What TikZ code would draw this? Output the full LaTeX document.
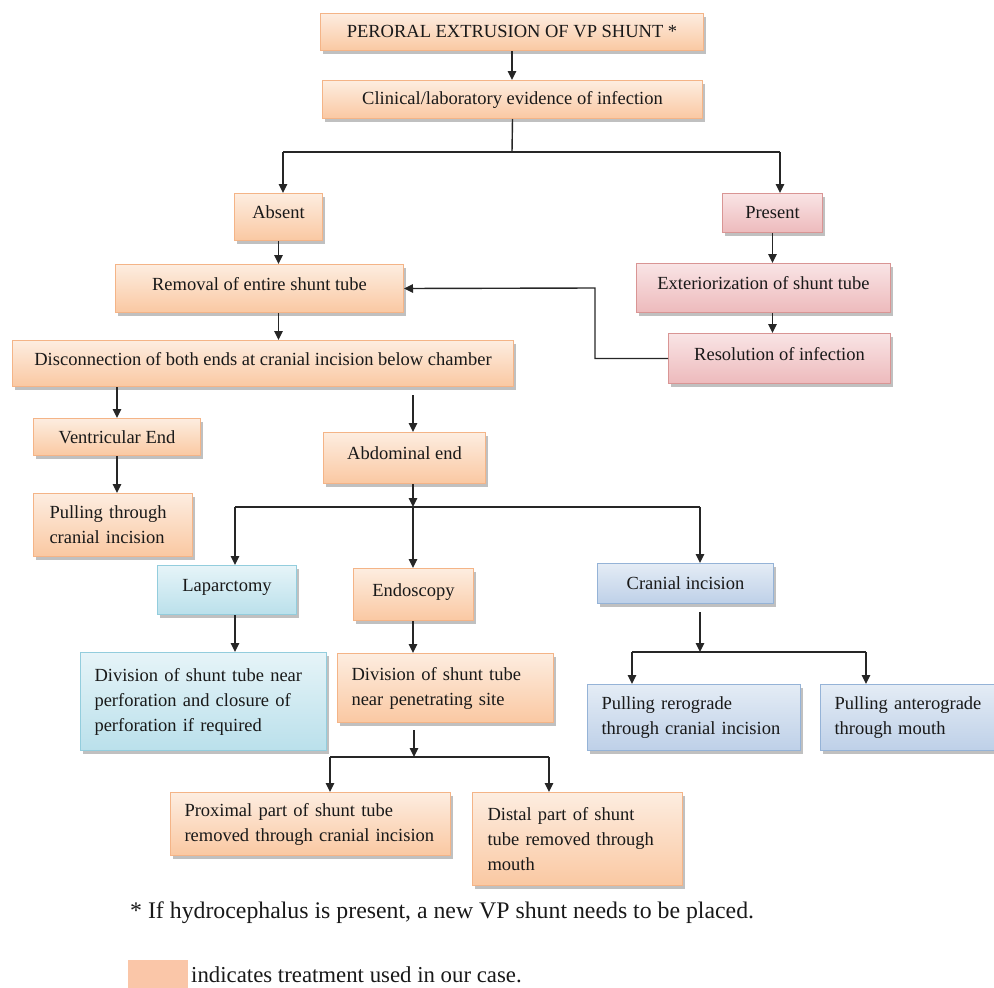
\documentclass[tikz,border=0pt]{standalone}
\usepackage{fontspec}
\setmainfont{Liberation Serif}
\usetikzlibrary{arrows.meta,shadows}
\definecolor{txt}{RGB}{25,25,25}
\definecolor{orTop}{RGB}{253,237,224}
\definecolor{orBot}{RGB}{250,200,162}
\definecolor{orBd}{RGB}{244,180,135}
\definecolor{pkTop}{RGB}{249,228,229}
\definecolor{pkBot}{RGB}{237,186,188}
\definecolor{pkBd}{RGB}{217,149,148}
\definecolor{cyTop}{RGB}{230,244,248}
\definecolor{cyBot}{RGB}{186,224,235}
\definecolor{cyBd}{RGB}{147,205,221}
\definecolor{blTop}{RGB}{228,236,245}
\definecolor{blBot}{RGB}{190,208,232}
\definecolor{blBd}{RGB}{149,179,215}
\definecolor{swatch}{RGB}{250,198,168}
\newcommand\bxfont{\fontsize{18.5}{25}\selectfont}
\begin{document}
\begin{tikzpicture}[x=1pt,y=-1pt,
  box/.style={rectangle, line width=1pt, font=\bxfont, text=txt, inner sep=0pt,
    anchor=north west, drop shadow={shadow xshift=2.5pt, shadow yshift=-3pt, fill=black!55, opacity=0.45}},
  obox/.style={box, draw=orBd, top color=orTop, bottom color=orBot},
  pbox/.style={box, draw=pkBd, top color=pkTop, bottom color=pkBot},
  cbox/.style={box, draw=cyBd, top color=cyTop, bottom color=cyBot},
  bbox/.style={box, draw=blBd, top color=blTop, bottom color=blBot},
  sz/.style 2 args={minimum width=#1, minimum height=#2, align=center},
  hi/.style={text height=13pt, text depth=10pt},
  ml/.style n args={3}{text width=#1, inner xsep=#2, minimum height=#3, align=left},
  arr/.style={line width=1.4pt, draw=black!85, -{Triangle[length=9pt,width=8.5pt]}},
  ln/.style={line width=1.4pt, draw=black!85}]
\useasboundingbox (0,0) rectangle (994,988);

% boxes
\node[obox, sz={383}{37}] (peroral) at (320,13) {PERORAL EXTRUSION OF VP SHUNT *};
\node[obox, sz={380}{38}] (clin) at (322,80) {Clinical/laboratory evidence of infection};
\node[obox, sz={88}{47}, hi] (absent) at (234,193) {Absent};
\node[pbox, sz={100}{39}] (present) at (722,193) {Present};
\node[obox, sz={288}{48}, hi] (removal) at (115,264) {Removal of entire shunt tube};
\node[pbox, sz={254}{49}, hi] (exter) at (636,263) {Exteriorization of shunt tube};
\node[pbox, sz={222}{50}, hi] (resol) at (668,333) {Resolution of infection};
\node[obox, sz={501}{46}, hi] (disc) at (12,340) {Disconnection of both ends at cranial incision below chamber};
\node[obox, sz={167}{37}] (vent) at (33,418) {Ventricular End};
\node[obox, ml={127pt}{16pt}{63}] (pullthru) at (33,493) {Pulling through\\cranial incision};
\node[obox, sz={162}{51}, hi] (abd) at (323,432) {Abdominal end};
\node[cbox, sz={139}{49}, hi] (lap) at (157,565) {Laparctomy};
\node[obox, sz={120}{52}, hi] (endo) at (353,568) {Endoscopy};
\node[bbox, sz={176}{40}] (cran) at (597,563) {Cranial incision};
\node[cbox, ml={218pt}{14pt}{98}] (divlap) at (80,652) {Division of shunt tube near\\perforation and closure of\\perforation if required};
\node[obox, ml={188pt}{14pt}{69}] (divendo) at (337,653) {Division of shunt tube\\near penetrating site};
\node[bbox, ml={185pt}{14pt}{66}] (retro) at (587,684) {Pulling rerograde\\through cranial incision};
\node[bbox, ml={148pt}{14pt}{66}] (antero) at (820,684) {Pulling anterograde\\through mouth};
\node[obox, ml={252pt}{14pt}{63}] (prox) at (170,792) {Proximal part of shunt tube\\removed through cranial incision};
\node[obox, ml={180pt}{15pt}{93}] (distal) at (472,792) {Distal part of shunt\\tube removed through\\mouth};

% junction coordinates
\coordinate (j1) at (512,152);
\coordinate (jL) at (283,152);
\coordinate (jR) at (780,152);
\coordinate (fb) at (595,288);
\coordinate (dA) at (413,395);
\coordinate (jA) at (413,507);
\coordinate (jAL) at (235,507);
\coordinate (jAR) at (700,507);
\coordinate (cS) at (700,612);
\coordinate (jC) at (700,652);
\coordinate (jCL) at (632,652);
\coordinate (jCR) at (866,652);
\coordinate (eS) at (414,730);
\coordinate (jE) at (414,757);
\coordinate (jEL) at (330,757);
\coordinate (jER) at (549,757);

% connectors
\draw[arr] (peroral.south) -- (clin.north -| peroral.south);
\draw[ln] (clin.south) -- (j1);
\draw[ln] (jL) -- (jR);
\draw[arr] (jL) -- (absent.north -| jL);
\draw[arr] (jR) -- (present.north -| jR);
\draw[arr] (absent.south) -- (removal.north -| absent.south);
\draw[arr] (present.south) -- (exter.north -| present.south);
\draw[arr] (exter.south -| present.south) -- (resol.north -| present.south);
\draw[arr] (resol.west) -| (fb) -- (removal.east);
\draw[arr] (removal.south -| absent.south) -- (disc.north -| absent.south);
\draw[arr] (disc.south -| vent.south) -- (vent.north);
\draw[arr] (vent.south) -- (pullthru.north -| vent.south);
\draw[arr] (dA) -- (abd.north -| dA);
\draw[arr] (abd.south -| jA) -- (jA);
\draw[ln] (jAL) -- (jAR);
\draw[arr] (jAL) -- (lap.north -| jAL);
\draw[arr] (jA) -- (endo.north -| jA);
\draw[arr] (jAR) -- (cran.north -| jAR);
\draw[arr] (lap.south -| jAL) -- (divlap.north -| jAL);
\draw[arr] (endo.south -| jA) -- (divendo.north -| jA);
\draw[arr] (cS) -- (jC);
\draw[ln] (jCL) -- (jCR);
\draw[arr] (jCL) -- (retro.north -| jCL);
\draw[arr] (jCR) -- (antero.north -| jCR);
\draw[arr] (eS) -- (jE);
\draw[ln] (jEL) -- (jER);
\draw[arr] (jEL) -- (prox.north -| jEL);
\draw[arr] (jER) -- (distal.north -| jER);

% footnote and legend
\node[anchor=base west, inner sep=0pt, text=txt, font=\fontsize{23.8}{28}\selectfont] (foot) at (130,918) {* If hydrocephalus is present, a new VP shunt needs to be placed.};
\node[anchor=north west, fill=swatch, minimum width=60, minimum height=28, inner sep=0pt] (sw) at (128,960) {};
\node[anchor=base west, inner sep=0pt, text=txt, font=\fontsize{22.8}{27}\selectfont] (leg) at (191,982) {indicates treatment used in our case.};
\end{tikzpicture}
\end{document}
